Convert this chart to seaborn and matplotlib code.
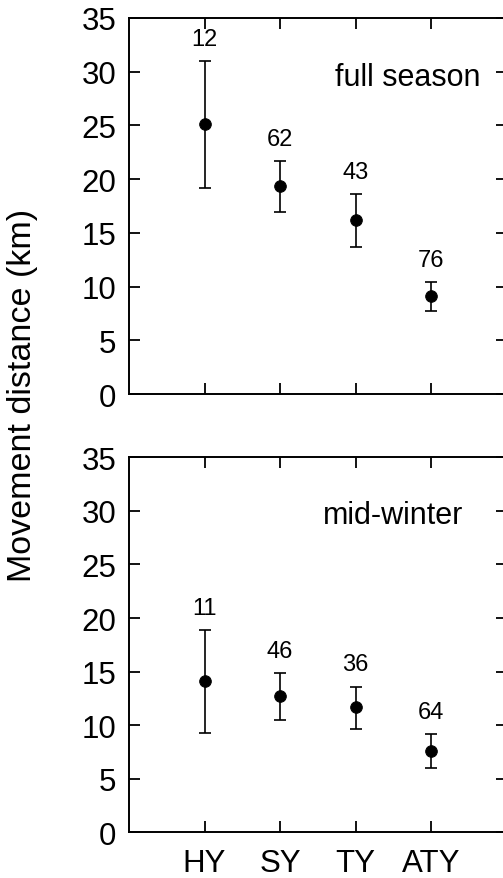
import numpy as np
import pandas as pd
import seaborn as sns
import matplotlib.pyplot as plt

# age classes and values
ages = ["HY", "SY", "TY", "ATY"]

full_mean = [25.1, 19.4, 16.2, 9.1]
full_lo = [19.2, 16.9, 13.65, 7.7]
full_hi = [31.0, 21.7, 18.6, 10.4]
full_n = [12, 62, 43, 76]

winter_mean = [14.15, 12.75, 11.65, 7.6]
winter_lo = [9.3, 10.5, 9.6, 6.0]
winter_hi = [18.9, 14.9, 13.6, 9.2]
winter_n = [11, 46, 36, 64]

panels = [
    ("full season", full_mean, full_lo, full_hi, full_n),
    ("mid-winter", winter_mean, winter_lo, winter_hi, winter_n),
]

sns.set_theme(style="ticks")
plt.rcParams["font.family"] = ["Liberation Sans", "DejaVu Sans"]
plt.rcParams["text.color"] = "black"
plt.rcParams["axes.labelcolor"] = "black"

fig = plt.figure(figsize=(5.03, 8.79), dpi=100)
# right spine sits just past the figure edge, as in the original
ax_top = fig.add_axes([0.2565, 0.5506, 0.7505, 0.4278])
ax_bot = fig.add_axes([0.2565, 0.0520, 0.7505, 0.4266])

text_pos = {"full season": (0.932, 0.843), "mid-winter": (0.885, 0.846)}

for ax, (name, mean, lo, hi, n) in zip([ax_top, ax_bot], panels):
    df = pd.DataFrame({"age": ages, "mean": mean, "lo": lo, "hi": hi, "n": n})
    ax.errorbar(df["age"], df["mean"],
                yerr=[df["mean"] - df["lo"], df["hi"] - df["mean"]],
                fmt="none", ecolor="black", elinewidth=1.2, capsize=4, capthick=1.2)
    sns.scatterplot(data=df, x="age", y="mean", ax=ax, color="black", s=70,
                    edgecolor="black", zorder=3)
    for i, row in df.iterrows():
        ax.annotate(str(row["n"]), xy=(i, row["hi"]), xytext=(0, 8),
                    textcoords="offset points", ha="center", va="bottom",
                    fontsize=17, color="black")
    ax.text(*text_pos[name], name, transform=ax.transAxes, ha="right", va="center",
            fontsize=22, color="black")

    ax.set_xlim(-1, 4)
    ax.set_ylim(0, 35)
    ax.set_yticks(np.arange(0, 36, 5))
    ax.set_xlabel("")
    ax.set_ylabel("")
    for s in ax.spines.values():
        s.set_linewidth(1.4)
        s.set_color("black")
        s.set_visible(True)
    ax.tick_params(direction="in", length=8, width=1.3, top=True, right=True,
                   labelsize=22.5, pad=9, colors="black", labelcolor="black")

ax_top.tick_params(labelbottom=False)
ax_bot.tick_params(axis="x", pad=11)

fig.text(0.044, 0.55, "Movement distance (km)", rotation=90, ha="center", va="center",
         fontsize=24.5, color="black")

fig.savefig("out.png", dpi=100)
